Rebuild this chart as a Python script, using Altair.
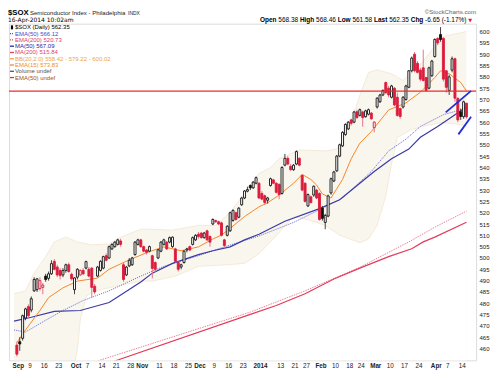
import altair as alt
import pandas as pd

# ---------------- candles: trading-day index 0 = 3-Sep-2013 ... 156 = 16-Apr-2014
OPEN = [461.5, 463.0, 464.5, 473.5, 478.5, 477.0, 485.5, 486.0, 486.5, 487.0,
        492.0, 491.0, 493.0, 498.5, 496.0, 494.5, 492.5, 494.5, 497.0, 492.8,
        486.0, 491.5, 492.5, 494.5, 495.5, 495.0, 495.5, 487.5, 492.0, 494.5,
        495.5, 501.0, 500.0, 504.0, 505.0, 506.0, 507.5, 497.0, 492.5, 496.5,
        497.0, 501.5, 506.0, 508.0, 505.0, 503.5, 503.0, 501.0, 498.0, 500.0,
        503.0, 506.0, 507.0, 507.0, 505.0, 504.0, 498.0, 496.0, 498.0, 503.5,
        505.0, 506.0, 508.0, 510.5, 511.0, 509.0, 512.0, 509.5, 515.0, 516.5,
        516.0, 515.5, 508.0, 510.0, 512.0, 516.6, 520.0, 518.0, 523.5, 526.5,
        529.5, 532.0, 531.0, 533.0, 533.0, 528.5, 527.5, 525.5, 532.0, 534.5,
        533.0, 532.5, 528.5, 541.0, 544.0, 540.5, 539.0, 541.5, 544.0, 536.5,
        533.0, 523.0, 527.0, 527.8, 530.0, 528.5, 522.0, 515.7, 518.5, 528.7,
        534.0, 538.5, 545.0, 549.5, 554.5, 557.0, 561.0, 560.0, 564.6, 563.0,
        564.5, 562.4, 563.5, 564.0, 557.6, 566.7, 569.0, 572.0, 577.5, 575.0,
        571.0, 575.0, 571.0, 566.0, 566.7, 570.0, 575.4, 582.7, 590.0, 586.0,
        583.0, 584.0, 579.7, 575.0, 580.5, 589.0, 597.0, 598.7, 597.0, 582.7,
        574.0, 583.0, 588.0, 570.5, 564.6, 562.4, 568.38]
HIGH = [463.0, 465.0, 475.0, 478.0, 479.5, 483.0, 491.5, 491.0, 491.5, 489.0,
        493.0, 494.0, 499.0, 499.5, 497.0, 495.5, 495.5, 497.5, 498.0, 493.5,
        491.5, 495.5, 495.0, 495.5, 498.8, 496.0, 496.0, 488.5, 496.5, 499.0,
        501.0, 502.0, 505.5, 506.5, 507.5, 508.5, 508.5, 498.0, 496.5, 500.0,
        500.5, 507.5, 508.5, 508.5, 505.5, 504.0, 505.5, 501.5, 498.5, 504.0,
        507.5, 508.5, 507.5, 509.5, 509.5, 504.5, 498.5, 497.5, 503.5, 504.5,
        505.5, 509.5, 510.5, 511.5, 511.5, 511.5, 512.5, 510.0, 517.5, 517.0,
        516.5, 516.0, 508.5, 514.5, 520.5, 521.5, 520.5, 522.5, 527.0, 530.0,
        531.5, 532.5, 534.0, 536.0, 533.5, 529.5, 528.0, 527.0, 535.5, 535.0,
        533.5, 533.0, 540.5, 546.0, 545.0, 541.5, 541.5, 547.5, 544.5, 537.0,
        533.5, 528.5, 527.5, 532.0, 530.5, 529.0, 523.0, 519.5, 528.0, 535.5,
        538.5, 545.5, 550.5, 556.0, 559.5, 560.5, 561.5, 565.0, 565.5, 566.0,
        565.0, 565.5, 566.0, 564.5, 560.5, 571.0, 572.5, 574.5, 578.0, 576.0,
        576.5, 575.5, 573.0, 566.5, 571.5, 576.5, 583.0, 589.0, 591.0, 587.0,
        584.0, 592.0, 580.0, 584.5, 587.5, 597.0, 597.5, 602.0, 597.5, 583.0,
        581.0, 589.0, 588.5, 571.0, 566.0, 569.5, 568.46]
LOW = [456.5, 459.0, 463.5, 472.5, 473.5, 476.0, 485.0, 485.0, 485.5, 484.0,
       489.5, 490.0, 492.5, 494.5, 491.5, 490.5, 491.5, 493.5, 493.5, 490.0,
       484.0, 490.5, 492.0, 492.5, 495.0, 491.5, 482.5, 484.0, 491.5, 494.0,
       495.0, 498.5, 499.5, 503.5, 504.5, 505.5, 505.0, 489.5, 492.0, 496.0,
       496.5, 501.0, 505.5, 504.5, 502.5, 501.5, 502.5, 491.0, 494.0, 499.5,
       502.5, 505.5, 503.5, 506.5, 504.5, 498.0, 494.0, 495.0, 497.5, 502.5,
       503.0, 505.5, 507.5, 508.5, 508.5, 508.5, 507.5, 505.0, 514.5, 515.5,
       514.5, 509.5, 504.5, 509.5, 511.5, 516.0, 516.5, 517.5, 523.0, 526.0,
       529.0, 530.0, 530.5, 532.5, 526.0, 525.5, 523.5, 524.0, 531.5, 532.5,
       528.5, 526.0, 528.0, 540.5, 541.0, 538.5, 538.5, 541.0, 540.5, 529.5,
       524.5, 522.5, 524.0, 527.0, 526.0, 516.5, 516.5, 512.7, 518.0, 528.0,
       533.5, 538.0, 544.5, 549.0, 554.0, 556.5, 558.5, 559.5, 561.5, 562.5,
       558.0, 562.0, 563.0, 561.0, 555.5, 566.0, 568.5, 571.5, 572.5, 571.0,
       570.5, 567.0, 562.4, 561.5, 566.0, 569.5, 575.0, 582.0, 582.0, 581.5,
       578.0, 578.0, 573.5, 574.5, 580.0, 588.5, 594.0, 595.5, 578.0, 573.0,
       572.0, 582.0, 569.0, 560.0, 561.0, 561.5, 561.58]
CLOSE = [457.5, 462.0, 474.5, 477.5, 474.5, 482.0, 490.5, 490.8, 490.0, 488.0,
         490.5, 493.0, 497.5, 495.0, 492.5, 492.2, 494.5, 497.0, 494.0, 490.8,
         491.2, 495.0, 494.5, 493.0, 498.4, 492.0, 487.0, 485.0, 496.0, 498.5,
         500.6, 499.0, 505.0, 506.0, 507.0, 508.0, 506.0, 490.5, 496.0, 499.0,
         500.0, 507.0, 508.0, 505.0, 503.0, 502.5, 505.0, 495.4, 495.0, 503.6,
         507.0, 508.0, 504.0, 509.0, 509.2, 498.5, 495.0, 497.0, 503.0, 504.0,
         503.5, 509.0, 510.0, 509.5, 509.0, 511.0, 508.0, 507.0, 517.0, 516.0,
         515.0, 510.0, 505.5, 514.0, 520.0, 521.0, 517.0, 522.0, 526.5, 529.6,
         530.2, 531.0, 533.5, 535.5, 526.5, 526.0, 524.5, 526.5, 535.0, 533.0,
         529.0, 528.0, 540.0, 544.0, 541.5, 539.0, 541.0, 547.0, 541.0, 530.0,
         525.0, 528.0, 524.5, 531.7, 526.5, 517.0, 517.5, 518.8, 527.4, 535.0,
         538.0, 545.0, 550.0, 555.5, 559.0, 560.0, 559.5, 564.5, 562.0, 565.5,
         562.0, 565.0, 565.5, 561.5, 560.0, 570.6, 572.0, 574.0, 573.0, 572.0,
         576.0, 567.6, 563.0, 562.5, 571.0, 576.0, 582.7, 588.3, 582.7, 582.0,
         579.0, 578.4, 574.0, 584.0, 587.0, 596.5, 595.0, 596.5, 579.0, 575.4,
         580.0, 588.0, 570.6, 561.0, 562.5, 569.0, 562.35]

# ---------------- overlays (day index, value)
EMA15_IDX = [0, 3, 8, 11, 16, 21, 28, 32, 37, 40, 46, 51, 57, 63, 68, 71, 74, 79, 84, 87,
             91, 96, 99, 102, 104, 106, 109, 113, 116, 119, 123, 129, 135, 140, 145, 147,
             150, 154, 156]
EMA15_VAL = [462.6, 468.2, 476.8, 482.5, 486.8, 489.8, 491.1, 495.0, 498.0, 499.7, 502.8,
             504.9, 503.2, 504.9, 508.4, 510.1, 513.1, 518.3, 522.6, 524.4, 527.8, 533.0,
             536.9, 534.7, 532.2, 528.3, 526.5, 534.7, 543.8, 550.7, 555.9, 565.4, 568.5,
             573.2, 579.7, 582.7, 581.4, 577.5, 573.8]
MA50_IDX = [-1, 5, 13, 22, 32, 43, 47, 54, 63, 68, 74, 79, 84, 93, 105, 112, 119, 124,
            130, 136, 140, 146, 151, 156]
MA50_VAL = [472.1, 473.8, 476.4, 476.8, 480.3, 489.4, 493.3, 497.6, 501.5, 503.2, 504.9,
            508.0, 510.5, 516.2, 521.8, 525.7, 533.0, 538.2, 543.8, 548.1, 553.3, 558.1,
            562.4, 566.8]
EMA50_IDX = [-1, 3, 10, 16, 23, 32, 43, 51, 63, 71, 84, 96, 105, 113, 123, 129, 135, 140,
             148, 156]
EMA50_VAL = [468.2, 467.3, 472.5, 476.8, 481.2, 485.5, 492.0, 496.3, 501.0, 504.5, 509.7,
             515.7, 521.3, 526.5, 538.2, 547.3, 552.5, 558.1, 563.3, 566.1]
MA200_IDX = [20, 34, 81, 90, 100, 110, 119, 129, 137, 141, 145, 156]
MA200_VAL = [448.2, 454.5, 475.1, 479.0, 484.2, 490.7, 495.5, 500.6, 504.1, 507.1, 509.2,
             515.8]
EMA200_IDX = [15, 28, 81, 100, 119, 136, 145, 156]
EMA200_VAL = [449.0, 454.5, 476.1, 485.5, 495.9, 507.1, 513.6, 520.7]
BB_UP_IDX = [-1, 3, 6, 10, 13, 17, 21, 26, 32, 36, 43, 47, 54, 63, 69, 74, 79, 84, 88,
             91, 98, 107, 111, 115, 119, 122, 125, 130, 134, 137, 141, 145, 148, 151, 156]
BB_UP_VAL = [484.2, 485.5, 493.3, 500.6, 507.1, 509.2, 507.1, 505.8, 506.2, 509.2, 512.7,
             512.7, 512.3, 514.4, 514.4, 520.1, 528.7, 537.3, 539.9, 543.8, 547.7, 547.3,
             548.1, 555.9, 571.9, 581.9, 583.1, 581.4, 578.4, 581.9, 587.0, 593.5, 597.8,
             598.7, 600.0]
BB_LO_IDX = [-1, 16, 19, 21, 22, 24, 26, 32, 43, 47, 55, 63, 74, 79, 84, 88, 96, 102,
             107, 112, 119, 122, 125, 128, 130, 132, 137, 141, 147, 151, 156]
BB_LO_VAL = [437.9, 437.9, 446.6, 459.6, 472.5, 482.9, 485.0, 486.8, 489.8, 489.8, 492.0,
             496.3, 497.1, 497.6, 501.9, 507.1, 518.3, 516.6, 514.4, 510.1, 506.7, 508.4,
             514.4, 527.4, 541.7, 553.3, 556.8, 558.1, 559.8, 559.4, 558.5]
RESIST = [573.7]
TREND_A_IDX = [148.8, 157.6]
TREND_A_VAL = [564.3, 573.8]
TREND_B_IDX = [153.2, 157.6]
TREND_B_VAL = [554.6, 562.4]

# ---------------- axis labels
X_TICK_IDX = [0, 4, 9, 14, 20, 24, 29, 34, 39, 43, 49, 54, 59, 63, 68, 73, 78, 84, 91,
              96, 100, 105, 110, 115, 119, 124, 129, 134, 139, 145, 149, 154]
X_TICK_LBL = ["Sep", "9", "16", "23", "Oct", "7", "14", "21", "28", "Nov", "11", "18",
              "25", "Dec", "9", "16", "23", "2014", "13", "21", "27", "Feb", "10", "18",
              "24", "Mar", "10", "17", "24", "Apr", "7", "14"]
X_BOLD_IDX = [0, 20, 43, 63, 84, 105, 124, 145]
Y_TICKS = list(range(460, 601, 5))

LEG_TEXT = ["$SOX (Daily) 562.35", "EMA(50) 566.12", "EMA(200) 520.73", "MA(50) 567.09",
            "MA(200) 515.84", "BB(20,2.0) 558.42 - 579.22 - 600.02", "EMA(15) 573.83",
            "Volume undef", "EMA(50) undef"]
LEG_COLOR = ["#000000", "#4a4ac8", "#e0406a", "#26269a", "#e0406a", "#eea44c", "#f08a30",
             "#555555", "#a0522d"]
LEG_DASH = [None, [1, 1], [1, 1], None, None, None, None, None, None]

# ---------------- frames
n = len(CLOSE)
prev = [None] + CLOSE[:-1]
col = ["#dc1c3c" if (p is None or c < p) else "#111111" for c, p in zip(CLOSE, prev)]
fill = ["#ffffff" if c > o else k for o, c, k in zip(OPEN, CLOSE, col)]
wick = ["#e5738b" if k != "#111111" else "#444444" for k in col]
candles = pd.DataFrame({"i": list(range(n)), "open": OPEN, "high": HIGH, "low": LOW,
                        "close": CLOSE, "col": col, "fill": fill, "wick": wick})


def frame(idx, val):
    return pd.DataFrame({"i": idx, "v": val})


XS = alt.Scale(domain=[-1, 157.6], nice=False, zero=False)
YS = alt.Scale(domain=[454.8, 603.5], nice=False, zero=False)
lbl_expr = ("[" + ",".join("'%s'" % s for s in X_TICK_LBL) + "][indexof(["
            + ",".join(str(v) for v in X_TICK_IDX) + "], datum.value)]")
bold_test = "indexof([" + ",".join(str(v) for v in X_BOLD_IDX) + "], datum.value) >= 0"
XAX = alt.Axis(values=X_TICK_IDX, labelExpr=lbl_expr, title=None, grid=False, ticks=False,
               domain=False, labelFontSize=6.3, labelFont="Liberation Sans",
               labelColor="#222222", labelPadding=2, labelOverlap=False, labelFlush=False,
               labelOffset=1,
               labelFontWeight={"condition": {"test": bold_test, "value": "bold"},
                                "value": "normal"})
YAX = alt.Axis(orient="right", values=Y_TICKS, title=None, grid=False, ticks=False,
               domain=False, labelFontSize=6, labelFont="Liberation Sans",
               labelColor="#222222", labelPadding=3)


def X(f="i"):
    return alt.X(f + ":Q", scale=XS, axis=XAX)


def Y(f="v"):
    return alt.Y(f + ":Q", scale=YS, axis=YAX)


layers = []
# Bollinger band
layers.append(alt.Chart(frame(BB_UP_IDX, BB_UP_VAL)).mark_area(color="#f9f6ee", clip=True)
              .encode(x=X(), y=Y(), y2=alt.datum(440)))
layers.append(alt.Chart(frame(BB_LO_IDX, BB_LO_VAL)).mark_area(color="#ffffff", clip=True)
              .encode(x=X(), y=Y(), y2=alt.datum(440)))
for idx, val in [(BB_UP_IDX, BB_UP_VAL), (BB_LO_IDX, BB_LO_VAL)]:
    layers.append(alt.Chart(frame(idx, val)).mark_line(color="#f3e4d0", strokeWidth=0.8, clip=True)
                  .encode(x=X(), y=Y()))


def line(idx, val, color, width, dash=None):
    kw = dict(color=color, strokeWidth=width, clip=True)
    if dash:
        kw["strokeDash"] = dash
    return alt.Chart(frame(idx, val)).mark_line(**kw).encode(x=X(), y=Y())


layers.append(line(EMA200_IDX, EMA200_VAL, "#ef8199", 1.0, [1.5, 1]))
layers.append(line(MA200_IDX, MA200_VAL, "#e23c5c", 1.2))
layers.append(line(EMA50_IDX, EMA50_VAL, "#7676d6", 1.0, [1.2, 1]))
layers.append(line(MA50_IDX, MA50_VAL, "#3a3aa8", 1.2))
layers.append(line(EMA15_IDX, EMA15_VAL, "#f5872b", 1.0))

# candles
base = alt.Chart(candles)
layers.append(base.mark_rule(strokeWidth=1).encode(
    x=X(), y=Y("low"), y2=alt.Y2("high:Q"), color=alt.Color("wick:N", scale=None)))
layers.append(base.mark_bar(size=2, strokeWidth=0.9).encode(
    x=X(), y=Y("open"), y2=alt.Y2("close:Q"),
    fill=alt.Fill("fill:N", scale=None), stroke=alt.Stroke("col:N", scale=None)))

# resistance line and trend lines
layers.append(alt.Chart(pd.DataFrame({"v": RESIST})).mark_rule(color="#ee2b2b", strokeWidth=1.3)
              .encode(y=Y()))
layers.append(line(TREND_A_IDX, TREND_A_VAL, "#1f2fe0", 1.8))
layers.append(line(TREND_B_IDX, TREND_B_VAL, "#1f2fe0", 1.8))

# ---------------- texts
ONE = pd.DataFrame({"k": [0]})


def note(s, x, y, size, color="#000000", weight="normal", align="left",
         font="Liberation Sans", baseline="top"):
    return alt.Chart(ONE).mark_text(text=s, fontSize=size, color=color, fontWeight=weight,
                                    align=align, baseline=baseline, font=font).encode(
        x=alt.value(x), y=alt.value(y))


layers.append(note("$SOX", -1, -15, 7.8, weight="bold"))
layers.append(note("Semiconductor Index - Philadelphia", 21, -13.6, 6.1, color="#222222"))
layers.append(note("INDX", 119.5, -12.8, 5, color="#222222"))
layers.append(note("\u00a9StockCharts.com", 469, -15, 6.2, color="#666666", align="right"))
layers.append(note("16-Apr-2014 10:02am", -1, -6.6, 6, font="DejaVu Sans"))

W_REG = {d: 0.556 for d in "0123456789"}
W_REG.update({".": 0.278, " ": 0.278, "-": 0.333, "(": 0.333, ")": 0.333, "%": 0.889})
W_BOLD = {"O": .778, "p": .611, "e": .556, "n": .611, "H": .722, "i": .278, "g": .611,
          "h": .611, "L": .611, "o": .611, "w": .778, "a": .556, "s": .556, "t": .333,
          "C": .722}
segs = [("Open", True), ("568.38", False), ("High", True), ("568.46", False), ("Low", True),
        ("561.58", False), ("Last", True), ("562.35", False), ("Chg", True),
        ("-6.65 (-1.17%)", False)]
fs = 6.5
xpos = 252.0
for s, b in segs:
    layers.append(note(s, xpos, -7.0, fs, weight="bold" if b else "normal"))
    table = W_BOLD if b else W_REG
    xpos += sum(table.get(ch, 0.55) for ch in s) * fs + 0.278 * fs
layers.append(note("\u25bc", xpos, -6.0, 5, color="#dc1c3c", font="DejaVu Sans"))

# legend inside plot
for k, (t, c, d) in enumerate(zip(LEG_TEXT, LEG_COLOR, LEG_DASH)):
    yy = 3.7 + 6.3 * k
    layers.append(note(t, 6, yy, 6, color=c, baseline="middle"))
    if k == 0:
        layers.append(alt.Chart(ONE).mark_rule(color="#000000", strokeWidth=2.2).encode(
            x=alt.value(3), y=alt.value(yy - 2), y2=alt.value(yy + 2)))
    else:
        kw = dict(color=c, strokeWidth=1.3)
        if d:
            kw["strokeDash"] = d
        layers.append(alt.Chart(ONE).mark_rule(**kw).encode(
            x=alt.value(1), x2=alt.value(5), y=alt.value(yy), y2=alt.value(yy)))

chart = alt.layer(*layers).properties(
    width=469, height=338,
    padding={"left": 0, "top": 0, "right": 2, "bottom": 0},
).configure_view(stroke="#a0a0a0", strokeWidth=1).configure(background="white")

chart.save("out.html", embed_options={"renderer": "svg", "actions": False})
